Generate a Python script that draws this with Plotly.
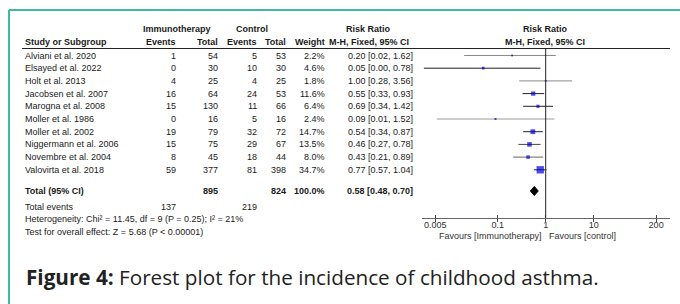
import plotly.graph_objects as go
import math

# ---------------- data ----------------
studies = ["Alviani et al. 2020", "Elsayed et al. 2022", "Holt et al. 2013",
           "Jacobsen et al. 2007", "Marogna et al. 2008", "Moller et al. 1986",
           "Moller et al. 2002", "Niggermann et al. 2006", "Novembre et al. 2004",
           "Valovirta et al. 2018"]
imm_events = [1, 0, 4, 16, 15, 0, 19, 15, 8, 59]
imm_total = [54, 30, 25, 64, 130, 16, 79, 75, 45, 377]
ctl_events = [5, 10, 4, 24, 11, 5, 32, 29, 18, 81]
ctl_total = [53, 30, 25, 53, 66, 16, 72, 67, 44, 398]
weight = [2.2, 4.6, 1.8, 11.6, 6.4, 2.4, 14.7, 13.5, 8.0, 34.7]
rr = [0.20, 0.05, 1.00, 0.55, 0.69, 0.09, 0.54, 0.46, 0.43, 0.77]
ci_lo = [0.02, 0.0029, 0.28, 0.33, 0.34, 0.0054, 0.34, 0.27, 0.21, 0.57]
ci_hi = [1.62, 0.78, 3.56, 0.93, 1.42, 1.52, 0.87, 0.78, 0.89, 1.04]
total_weight = 100.0
pooled_rr = 0.58
pooled_lo = 0.48
pooled_hi = 0.70
tick_vals = [0.005, 0.1, 1, 10, 200]
tick_text = ["0.005", "0.1", "1", "10", "200"]
heterogeneity = "Heterogeneity: Chi² = 11.45, df = 9 (P = 0.25); I² = 21%"
overall = "Test for overall effect: Z = 5.68 (P < 0.00001)"
favours_left = "Favours [Immunotherapy]"
favours_right = "Favours [control]"
caption_bold = "Figure 4:"
caption_rest = " Forest plot for the incidence of childhood asthma."

# ---------------- layout helpers ----------------
W, H = 680, 304
ROW0, ROWH = 55.5, 12.7          # pixel of first study row, row spacing


def fx(px):
    return px / W


def fy(py):
    return 1 - py / H


def row_of(py):
    return (py - ROW0) / ROWH


FONT = "Liberation Sans, Arial, sans-serif"
TXT = "#1a1a1a"
ci_colors = ["#8a8a8a", "#222222", "#8a8a8a", "#222222", "#222222",
             "#9a9a9a", "#222222", "#444444", "#666666", "#222222"]

fig = go.Figure()

rows = list(range(len(studies)))
# CI lines
for i in rows:
    fig.add_trace(go.Scatter(x=[ci_lo[i], ci_hi[i]], y=[rows[i], rows[i]], mode="lines",
                             line=dict(color=ci_colors[i], width=1),
                             hoverinfo="skip", showlegend=False))
# squares
fig.add_trace(go.Scatter(x=rr, y=rows, mode="markers",
                         marker=dict(symbol="square", color="#0000dd",
                                     size=[max(1.8, 1.25 * math.sqrt(w)) for w in weight],
                                     line=dict(width=0)),
                         hoverinfo="skip", showlegend=False))
# diamond
total_row = row_of(191)
dh = 0.36
fig.add_trace(go.Scatter(x=[pooled_lo, pooled_rr, pooled_hi, pooled_rr, pooled_lo],
                         y=[total_row, total_row - dh, total_row, total_row + dh, total_row],
                         mode="lines", fill="toself", fillcolor="#000000",
                         line=dict(color="#000000", width=1),
                         hoverinfo="skip", showlegend=False))
# invisible trace for the inside-tick axis
fig.add_trace(go.Scatter(x=[1], y=[0], xaxis="x2", mode="markers",
                         marker=dict(opacity=0), hoverinfo="skip", showlegend=False))

ann = []


def add_text(text, x_px, y_row=None, y_px=None, anchor="left", bold=False, size=9,
             color=TXT, family=FONT):
    if bold:
        text = "<b>" + text + "</b>"
    d = dict(text=text, x=fx(x_px), xref="paper", xanchor=anchor, yanchor="middle",
             showarrow=False, borderpad=0, borderwidth=0,
             font=dict(family=family, size=size, color=color))
    if y_row is not None:
        d.update(y=y_row, yref="y")
    else:
        d.update(y=fy(y_px), yref="paper")
    ann.append(d)


# headers
add_text("Immunotherapy", 177, y_px=29.3, anchor="center", bold=True)
add_text("Control", 252, y_px=29.3, anchor="center", bold=True)
add_text("Risk Ratio", 368, y_px=29.3, anchor="center", bold=True)
add_text("Risk Ratio", 545, y_px=29.3, anchor="center", bold=True)
add_text("Study or Subgroup", 25, y_px=41.7, anchor="left", bold=True)
add_text("Events", 176, y_px=41.7, anchor="right", bold=True)
add_text("Total", 218, y_px=41.7, anchor="right", bold=True)
add_text("Events", 257, y_px=41.7, anchor="right", bold=True)
add_text("Total", 286, y_px=41.7, anchor="right", bold=True)
add_text("Weight", 325, y_px=41.7, anchor="right", bold=True)
add_text("M-H, Fixed, 95% CI", 369, y_px=41.7, anchor="center", bold=True)
add_text("M-H, Fixed, 95% CI", 545, y_px=41.7, anchor="center", bold=True)

# study rows
for i in rows:
    add_text(studies[i], 25, y_row=rows[i])
    add_text(str(imm_events[i]), 176, y_row=rows[i], anchor="right")
    add_text(str(imm_total[i]), 218, y_row=rows[i], anchor="right")
    add_text(str(ctl_events[i]), 257, y_row=rows[i], anchor="right")
    add_text(str(ctl_total[i]), 286, y_row=rows[i], anchor="right")
    add_text(f"{weight[i]:.1f}%", 325, y_row=rows[i], anchor="right")
    add_text(f"{rr[i]:.2f} [{ci_lo[i]:.2f}, {ci_hi[i]:.2f}]", 413, y_row=rows[i], anchor="right")

# totals
add_text("Total (95% CI)", 25, y_row=total_row, bold=True)
add_text(str(sum(imm_total)), 218, y_row=total_row, anchor="right", bold=True)
add_text(str(sum(ctl_total)), 286, y_row=total_row, anchor="right", bold=True)
add_text(f"{total_weight:.1f}%", 325, y_row=total_row, anchor="right", bold=True)
add_text(f"{pooled_rr:.2f} [{pooled_lo:.2f}, {pooled_hi:.2f}]", 413, y_row=total_row,
         anchor="right", bold=True)
add_text("Total events", 25, y_row=row_of(206.7))
add_text(str(sum(imm_events)), 176, y_row=row_of(206.7), anchor="right")
add_text(str(sum(ctl_events)), 257, y_row=row_of(206.7), anchor="right")
add_text(heterogeneity, 25, y_row=row_of(219.3))
add_text(overall, 25, y_row=row_of(232.3))

# favours
add_text(favours_left, 542, y_px=235.5, anchor="right", color="#333333")
add_text(favours_right, 549, y_px=235.5, anchor="left", color="#333333")

# caption
add_text("<b>" + caption_bold + "</b>" + caption_rest, 26, y_px=276.5, anchor="left",
         size=20.7, color="#222222", family="Open Sans, sans-serif")

shapes = [
    # green frame
    dict(type="line", xref="paper", yref="paper", x0=fx(9), x1=fx(W), y0=fy(10), y1=fy(10),
         line=dict(color="#3dbb9f", width=2)),
    dict(type="line", xref="paper", yref="paper", x0=fx(9), x1=fx(9), y0=fy(10), y1=fy(H),
         line=dict(color="#3dbb9f", width=2)),
    # header rule
    dict(type="line", xref="paper", yref="paper", x0=fx(22), x1=fx(670), y0=fy(48.5), y1=fy(48.5),
         line=dict(color="#222222", width=1)),
    # line of no effect
    dict(type="line", xref="x", yref="paper", x0=1, x1=1, y0=fy(217.7), y1=fy(48.5),
         line=dict(color="#222222", width=1)),
]

x_dom = [fx(421.7), fx(670)]
x_rng = [-2.583, 2.59]
axis_pos = fy(217.7)

fig.update_layout(
    width=W, height=H, margin=dict(l=0, r=0, t=0, b=0),
    paper_bgcolor="white", plot_bgcolor="white", hovermode=False,
    showlegend=False, annotations=ann, shapes=shapes,
    xaxis=dict(type="log", range=x_rng, domain=x_dom, anchor="free", position=axis_pos,
               showline=True, linecolor="#666666", linewidth=1, showgrid=False, zeroline=False,
               ticks="outside", ticklen=3, tickcolor="#444444", tickwidth=1,
               tickvals=tick_vals, ticktext=tick_text, ticklabelstandoff=-5,
               tickfont=dict(family=FONT, size=9, color="#333333")),
    xaxis2=dict(type="log", range=x_rng, domain=x_dom, anchor="free", position=axis_pos,
                overlaying="x", showline=False, showgrid=False, zeroline=False,
                ticks="inside", ticklen=3, tickcolor="#444444", tickwidth=1,
                tickvals=tick_vals, showticklabels=False),
    yaxis=dict(range=[row_of(H), row_of(0)], domain=[0, 1], visible=False,
               showgrid=False, zeroline=False),
)

fig.write_html("out.html", config={"displayModeBar": False, "staticPlot": True},
               post_script="document.body.style.margin='0';document.body.style.padding='0';")
